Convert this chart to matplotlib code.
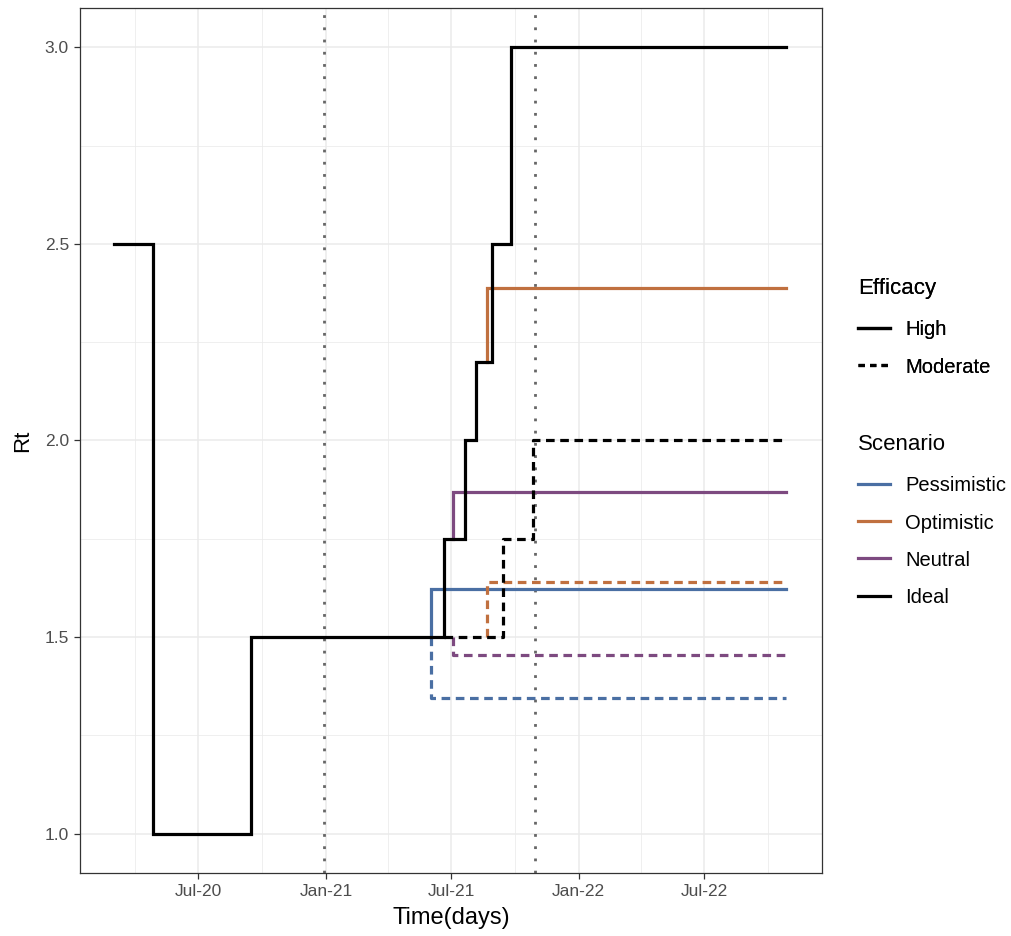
import matplotlib
matplotlib.use("Agg")
import matplotlib.pyplot as plt
from matplotlib.lines import Line2D
import datetime as dt

plt.rcParams['font.family'] = ['Liberation Sans', 'DejaVu Sans']

D = lambda s: dt.datetime.strptime(s, "%Y-%m-%d")

END = "2022-10-27"

# Ideal / High efficacy (full history)
ideal_high_dates = ["2020-03-01", "2020-04-27", "2020-09-15", "2021-06-20", "2021-07-20",
                    "2021-08-05", "2021-08-28", "2021-09-25", END]
ideal_high_vals = [2.5, 1.0, 1.5, 1.75, 2.0, 2.2, 2.5, 3.0, 3.0]

# Ideal / Moderate efficacy (branches at 2021-06-20)
ideal_mod_dates = ["2021-06-20", "2021-09-13", "2021-10-27", END]
ideal_mod_vals = [1.5, 1.75, 2.0, 2.0]

# Other scenarios: branch date, value before branch, value after (High / Moderate)
scen_names = ["Pessimistic", "Optimistic", "Neutral"]
scen_branch = ["2021-06-01", "2021-08-22", "2021-07-03"]
scen_prev_high = [1.5, 2.2, 1.75]
scen_high = [1.623, 2.388, 1.869]
scen_prev_mod = [1.5, 1.5, 1.5]
scen_mod = [1.346, 1.64, 1.455]
scen_colors = ["#4A6FA3", "#C0703F", "#7D4A80"]

vlines = ["2020-12-29", "2021-10-30"]

xlim = ["2020-01-12", "2022-12-18"]
ylim = [0.9, 3.1]
xticks = ["2020-07-01", "2021-01-01", "2021-07-01", "2022-01-01", "2022-07-01"]
xtick_labels = ["Jul-20", "Jan-21", "Jul-21", "Jan-22", "Jul-22"]
xminor = ["2020-04-01", "2020-10-01", "2021-04-01", "2021-10-01", "2022-04-01", "2022-10-01"]
yticks = [1.0, 1.5, 2.0, 2.5, 3.0]
yminor = [1.25, 1.75, 2.25, 2.75]

W, H = 1011, 936
fig = plt.figure(figsize=(W/100, H/100), dpi=100)
ax = fig.add_axes([80/W, 1-873/H, (822-80)/W, (873-8)/H])

LW = 2.3
DASH = (2.7, 1.75)

for v in vlines:
    ax.axvline(D(v), color="#666666", lw=2.0, linestyle=(0, (1, 3.4)), zorder=1.5)

for i, name in enumerate(scen_names):
    b = D(scen_branch[i])
    ax.plot([b, b, D(END)], [scen_prev_high[i], scen_high[i], scen_high[i]],
            color=scen_colors[i], lw=LW, solid_joinstyle='miter', zorder=2)
    ax.plot([b, b, D(END)], [scen_prev_mod[i], scen_mod[i], scen_mod[i]],
            color=scen_colors[i], lw=LW, linestyle=(0, DASH), zorder=2)

ax.plot([D(d) for d in ideal_high_dates], ideal_high_vals, drawstyle='steps-post',
        color='black', lw=LW, solid_joinstyle='miter', zorder=3)
ax.plot([D(d) for d in ideal_mod_dates], ideal_mod_vals, drawstyle='steps-post',
        color='black', lw=LW, linestyle=(0, DASH), zorder=3)

ax.set_xlim(D(xlim[0]), D(xlim[1]))
ax.set_ylim(*ylim)
ax.set_xticks([D(d) for d in xticks])
ax.set_xticklabels(xtick_labels)
ax.set_xticks([D(d) for d in xminor], minor=True)
ax.set_yticks(yticks)
ax.set_yticklabels([f"{y:.1f}" for y in yticks])
ax.set_yticks(yminor, minor=True)

ax.grid(which='major', color='#EBEBEB', lw=1.1, zorder=0)
ax.grid(which='minor', color='#EBEBEB', lw=0.55, zorder=0)
ax.set_axisbelow(True)
for s in ax.spines.values():
    s.set_color('#333333')
    s.set_linewidth(0.9)
ax.tick_params(which='major', length=4, width=0.9, color='#333333',
               labelcolor='#4D4D4D', labelsize=12.5, pad=4)
ax.tick_params(which='minor', length=0)

ax.set_xlabel("Time(days)", fontsize=17, color='black', labelpad=6)
ax.set_ylabel("Rt", fontsize=16, color='black', labelpad=8)

# Legends
FS = 14.5
LS = 0.895
eff_handles = [Line2D([], [], color='black', lw=LW),
               Line2D([], [], color='black', lw=LW, linestyle=(0, (2.0, 1.6)))]
leg1 = fig.legend(eff_handles, ["High", "Moderate"], title="Efficacy",
                  loc='upper left', bbox_to_anchor=(858/W, 1-278/H), frameon=False,
                  fontsize=FS, title_fontsize=16, handlelength=1.6, handletextpad=0.75,
                  labelspacing=LS, borderpad=0, borderaxespad=0, alignment='left')
sc_handles = [Line2D([], [], color=c, lw=LW) for c in scen_colors] + \
             [Line2D([], [], color='black', lw=LW)]
leg2 = fig.legend(sc_handles, scen_names + ["Ideal"], title="Scenario",
                  loc='upper left', bbox_to_anchor=(858/W, 1-434/H), frameon=False,
                  fontsize=FS, title_fontsize=16, handlelength=1.6, handletextpad=0.75,
                  labelspacing=LS, borderpad=0, borderaxespad=0, alignment='left')
for lg in (leg1, leg2):
    lg._legend_box.sep = LS * FS + 2.5
fig.add_artist(leg1)

fig.savefig("out.png", dpi=100)
